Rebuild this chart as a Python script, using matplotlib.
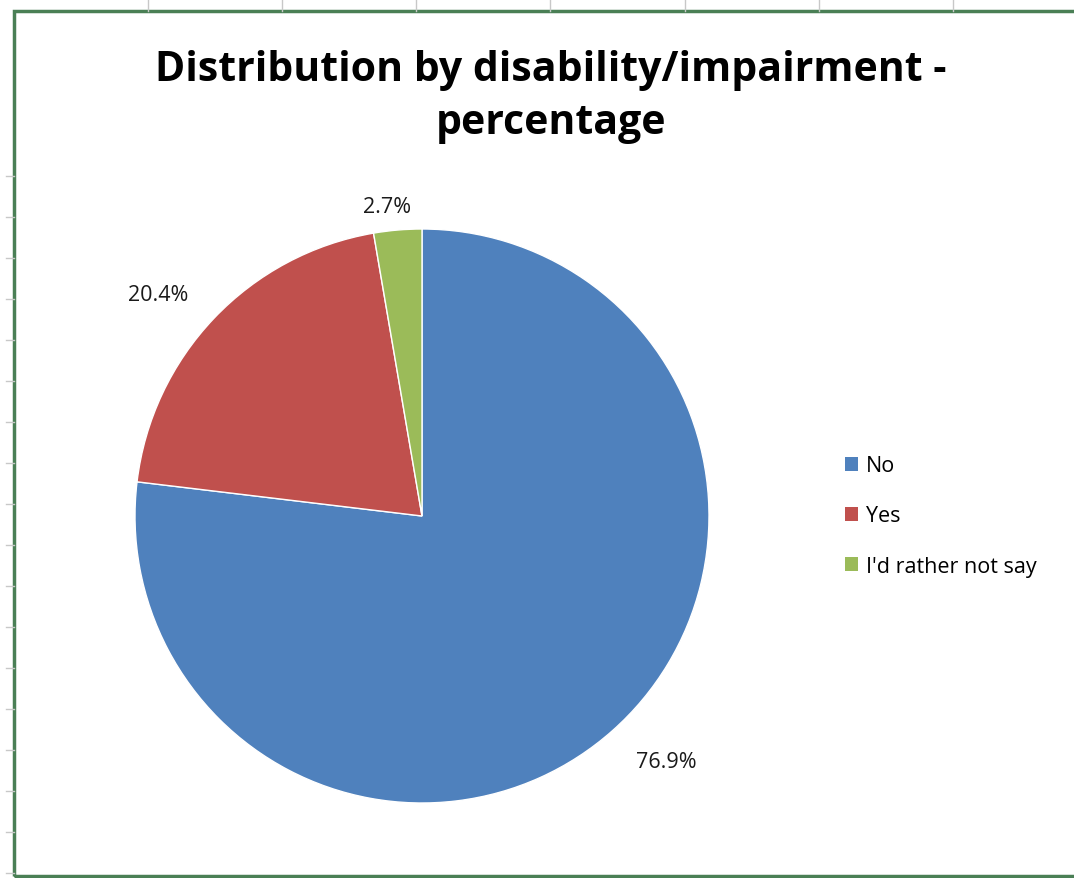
import matplotlib.pyplot as plt
from matplotlib.patches import Rectangle, Patch
from matplotlib.lines import Line2D
import numpy as np

# data
categories = ["No", "Yes", "I'd rather not say"]
shares = [76.9, 20.4, 2.7]
colors = ["#4F81BD", "#C0504D", "#9BBB59"]
# Excel "best fit" label placement, roughly: radial distance and angle nudge
label_dist = [1.205, 1.2, 1.085]
label_nudge = [3.3, 3.6, 1.5]

W, H = 1074, 879
fig = plt.figure(figsize=(W / 100, H / 100), dpi=100)
fig.patch.set_facecolor("white")

# spreadsheet grid ticks behind the chart
for x in [148, 282, 416, 550, 685, 819, 953]:
    fig.add_artist(Line2D([x / W, x / W], [1.0, 1 - 12 / H], color="#c8c8c8", lw=1))
for y in range(177, 879, 41):
    fig.add_artist(Line2D([6 / W, 14 / W], [1 - y / H, 1 - y / H], color="#c8c8c8", lw=1))

# green chart-area border (selected chart in Excel)
fig.add_artist(Rectangle((14 / W, 2 / H), 1.2, 1 - 14 / H, transform=fig.transFigure,
                         fill=False, edgecolor="#4a7f55", lw=2.5))

# pie
cx, cy, r = 422, 517, 287
ax = fig.add_axes([(cx - r) / W, (H - cy - r) / H, 2 * r / W, 2 * r / H])
wedges, _ = ax.pie(shares, colors=colors, startangle=90, counterclock=False,
                   wedgeprops=dict(edgecolor="white", linewidth=1), radius=1)
ax.set_xlim(-1, 1)
ax.set_ylim(-1, 1)
ax.set_aspect("equal")
ax.axis("off")

for w, val, d, nd in zip(wedges, shares, label_dist, label_nudge):
    ang = np.deg2rad((w.theta1 + w.theta2) / 2 + nd)
    ax.text(d * np.cos(ang), d * np.sin(ang), f"{val:.1f}%", ha="center", va="center",
            fontsize=15.5, family="Open Sans", color="#1a1a1a", clip_on=False)

fig.text(551 / W, 1 - 97 / H, "Distribution by disability/impairment -\npercentage",
         ha="center", va="center", fontsize=29.5, fontweight="bold", family="Open Sans",
         linespacing=1.4)

handles = [Patch(facecolor=c, edgecolor="none") for c in colors]
fig.legend(handles, categories, loc="center left", bbox_to_anchor=(826 / W, 1 - 517 / H),
           frameon=False, prop={"family": "Open Sans", "size": 15.5},
           handlelength=0.6, handleheight=0.6, handletextpad=0.35, labelspacing=1.35)

fig.savefig("out.png", dpi=100)
